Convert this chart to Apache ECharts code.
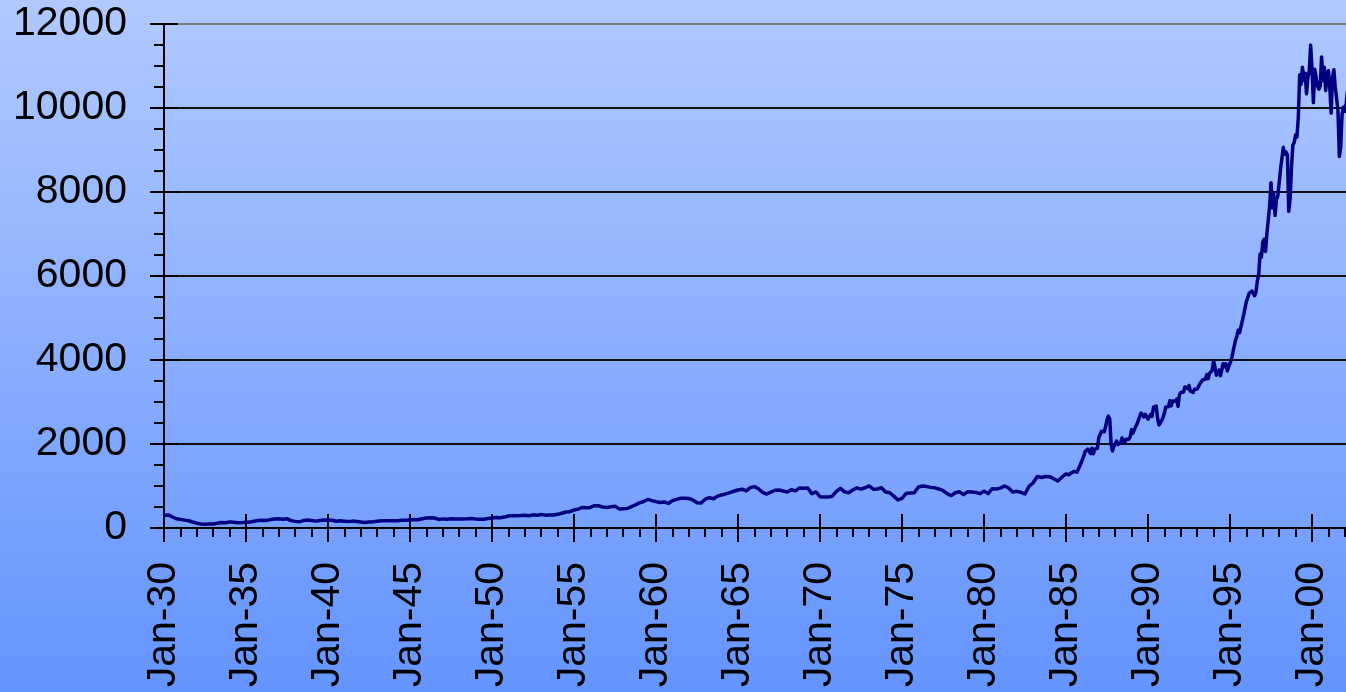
<!DOCTYPE html>
<html>
<head>
<meta charset="utf-8">
<title>Dow Jones Industrial Average 1930-2002</title>
<script src="https://cdn.jsdelivr.net/npm/echarts@6/dist/echarts.min.js"></script>
<style>
  html, body { margin: 0; padding: 0; }
  #chart { width: 1346px; height: 692px; }
</style>
</head>
<body>
<div id="chart"></div>
<script>
// Quarterly closes (Jan, Apr, Jul, Oct), 1930-1984
const quarterlyStartYear = 1930;
const quarterlyValues = [
  300, 312, 268, 220,   // 1930
  205, 188, 172, 142,   // 1931
  115, 95, 90, 98,      // 1932
  96, 112, 132, 124,    // 1933
  145, 137, 124, 128,   // 1934
  136, 145, 163, 176,   // 1935
  185, 180, 200, 212,   // 1936
  222, 210, 222, 175,   // 1937
  158, 147, 177, 188,   // 1938
  180, 164, 180, 188,   // 1939
  182, 185, 162, 170,   // 1940
  160, 152, 164, 154,   // 1941
  145, 132, 142, 150,   // 1942
  162, 172, 174, 175,   // 1943
  174, 174, 182, 182,   // 1944
  190, 200, 198, 222,   // 1945
  240, 242, 238, 205,   // 1946
  217, 206, 222, 217,   // 1947
  212, 216, 218, 225,   // 1948
  215, 210, 210, 225,   // 1949
  238, 250, 245, 260,   // 1950
  284, 294, 292, 296,   // 1951
  305, 292, 313, 303,   // 1952
  322, 306, 308, 310,   // 1953
  325, 352, 382, 388,   // 1954
  430, 450, 490, 480,   // 1955
  490, 530, 530, 500,   // 1956
  490, 505, 520, 455,   // 1957
  460, 465, 510, 550,   // 1958
  600, 630, 680, 650,   // 1959
  628, 606, 620, 585,   // 1960
  650, 682, 708, 706,   // 1961
  702, 668, 600, 594,   // 1962
  686, 720, 698, 757,   // 1963
  787, 813, 843, 875,   // 1964
  905, 924, 884, 962,   // 1965
  986, 933, 849, 809,   // 1966
  852, 899, 906, 882,   // 1967
  858, 914, 885, 954,   // 1968
  948, 952, 817, 858,   // 1969
  746, 738, 736, 757,   // 1970
  871, 943, 860, 841,   // 1971
  904, 956, 926, 958,   // 1972
  1001, 923, 928, 958,  // 1973
  858, 839, 759, 668,   // 1974
  705, 823, 834, 838,   // 1975
  977, 999, 987, 967,   // 1976
  956, 929, 892, 820,   // 1977
  772, 839, 864, 795,   // 1978
  862, 856, 848, 817,   // 1979
  878, 819, 937, 927,   // 1980
  949, 1000, 954, 855,  // 1981
  873, 850, 811, 994,   // 1982
  1078, 1228, 1201, 1227, // 1983
  1223, 1172, 1117, 1209  // 1984
];

// Monthly closes, Jan 1985 - Mar 2002
const monthlyStartYear = 1985;
const monthlyValues = [
  1287, 1284, 1267, 1258, 1315, 1336, 1348, 1334, 1329, 1374, 1472, 1547,   // 1985
  1571, 1709, 1819, 1784, 1877, 1893, 1775, 1898, 1768, 1878, 1914, 1896,   // 1986
  2158, 2224, 2305, 2286, 2292, 2419, 2572, 2663, 2596, 1994, 1834, 1939,   // 1987
  1958, 2072, 1989, 2032, 2031, 2142, 2129, 2032, 2112, 2149, 2115, 2169,   // 1988
  2342, 2258, 2294, 2419, 2480, 2440, 2661, 2737, 2693, 2645, 2706, 2753,   // 1989
  2591, 2627, 2707, 2657, 2877, 2881, 2905, 2615, 2453, 2442, 2560, 2634,   // 1990
  2737, 2882, 2914, 2888, 3028, 2907, 3025, 3044, 3017, 3069, 2895, 3169,   // 1991
  3224, 3268, 3236, 3359, 3397, 3319, 3394, 3257, 3272, 3226, 3305, 3301,   // 1992
  3310, 3371, 3435, 3428, 3528, 3516, 3540, 3651, 3555, 3681, 3684, 3754,   // 1993
  3978, 3832, 3636, 3682, 3758, 3625, 3765, 3913, 3843, 3908, 3739, 3834,   // 1994
  3844, 4011, 4158, 4321, 4465, 4556, 4709, 4650, 4789, 4756, 5075, 5117,   // 1995
  5395, 5486, 5588, 5569, 5643, 5655, 5529, 5616, 5882, 6029, 6522, 6448,   // 1996
  6813, 6878, 6584, 7009, 7331, 7673, 8223, 7622, 7945, 7442, 7823, 7908,   // 1997
  7907, 8546, 8800, 9063, 8900, 8952, 8883, 7539, 7843, 8592, 9117, 9181,   // 1998
  9359, 9307, 9786, 10789, 10560, 10971, 10655, 10829, 10337, 10730, 10878, 11497, // 1999
  10940, 10128, 10922, 10734, 10522, 10448, 10522, 11215, 10651, 10971, 10415, 10788, // 2000
  10887, 10495, 9879, 10735, 10912, 10502, 10523, 9950, 8848, 9075, 9852, 10022,   // 2001
  9920, 10106, 10404  // 2002
];

const yTickValues = [0, 2000, 4000, 6000, 8000, 10000, 12000];
const xTickLabels = ['Jan-30', 'Jan-35', 'Jan-40', 'Jan-45', 'Jan-50', 'Jan-55', 'Jan-60',
  'Jan-65', 'Jan-70', 'Jan-75', 'Jan-80', 'Jan-85', 'Jan-90', 'Jan-95', 'Jan-00'];

// Build [year, value] points; x is the date as a fractional year
const points = [];
quarterlyValues.forEach((v, i) => points.push([quarterlyStartYear + i / 4, v]));
monthlyValues.forEach((v, i) => points.push([monthlyStartYear + i / 12, v]));

const FONT = '"Liberation Sans", Arial, sans-serif';
const INK = '#000000';
const GRID_INK = '#111111';

const xCommon = {
  type: 'value',
  min: 1930,
  max: 2005,
  interval: 5,
  position: 'bottom',
  offset: 0
};
const yCommon = {
  type: 'value',
  min: 0,
  max: 12000,
  interval: 2000,
  position: 'left',
  offset: 0
};

const chart = echarts.init(document.getElementById('chart'), null, { renderer: 'canvas' });
chart.setOption({
  animation: false,
  backgroundColor: {
    type: 'linear', x: 0, y: 0, x2: 0, y2: 1,
    colorStops: [
      { offset: 0, color: '#B1C9FF' },
      { offset: 1, color: '#6494FF' }
    ]
  },
  grid: {
    left: 164, top: 24, right: -48, bottom: 164,
    containLabel: false,
    outerBoundsMode: 'none'
  },
  xAxis: [
    Object.assign({}, xCommon, {
      axisLine: { show: true, lineStyle: { color: INK, width: 2 } },
      axisTick: { show: true, inside: false, length: 14, lineStyle: { color: INK, width: 2 } },
      minorTick: { show: true, splitNumber: 5, length: 9, lineStyle: { color: INK, width: 2 } },
      splitLine: { show: false },
      axisLabel: {
        show: true,
        rotate: 90,
        margin: 34,
        color: INK,
        fontFamily: FONT,
        fontSize: 41,
        formatter: function (v) {
          const k = Math.round((v - 1930) / 5);
          return (Math.abs(v - (1930 + k * 5)) < 1e-6 && xTickLabels[k]) ? xTickLabels[k] : '';
        }
      }
    }),
    Object.assign({}, xCommon, {
      axisLine: { show: false },
      axisTick: { show: true, inside: true, length: 14, lineStyle: { color: INK, width: 2 } },
      axisLabel: { show: false },
      splitLine: { show: false }
    })
  ],
  yAxis: [
    Object.assign({}, yCommon, {
      axisLine: { show: true, lineStyle: { color: INK, width: 2 } },
      axisTick: { show: true, inside: false, length: 14, lineStyle: { color: INK, width: 2 } },
      minorTick: { show: true, splitNumber: 4, length: 10, lineStyle: { color: INK, width: 2 } },
      splitLine: {
        show: true,
        lineStyle: {
          color: [GRID_INK, GRID_INK, GRID_INK, GRID_INK, GRID_INK, GRID_INK, '#7a7a7a'],
          width: 2
        }
      },
      axisLabel: {
        show: true,
        margin: 37,
        padding: [5, 0, 0, 0],
        color: INK,
        fontFamily: FONT,
        fontSize: 41,
        formatter: function (v) {
          return yTickValues.indexOf(v) >= 0 ? String(v) : '';
        }
      }
    }),
    Object.assign({}, yCommon, {
      axisLine: { show: false },
      axisTick: { show: true, inside: true, length: 14, lineStyle: { color: INK, width: 2 } },
      axisLabel: { show: false },
      splitLine: { show: false }
    })
  ],
  series: [{
    type: 'line',
    xAxisIndex: 0,
    yAxisIndex: 0,
    data: points,
    showSymbol: false,
    symbol: 'none',
    lineStyle: { color: '#000080', width: 3.5, join: 'round' },
    clip: true
  }]
});
</script>
</body>
</html>
